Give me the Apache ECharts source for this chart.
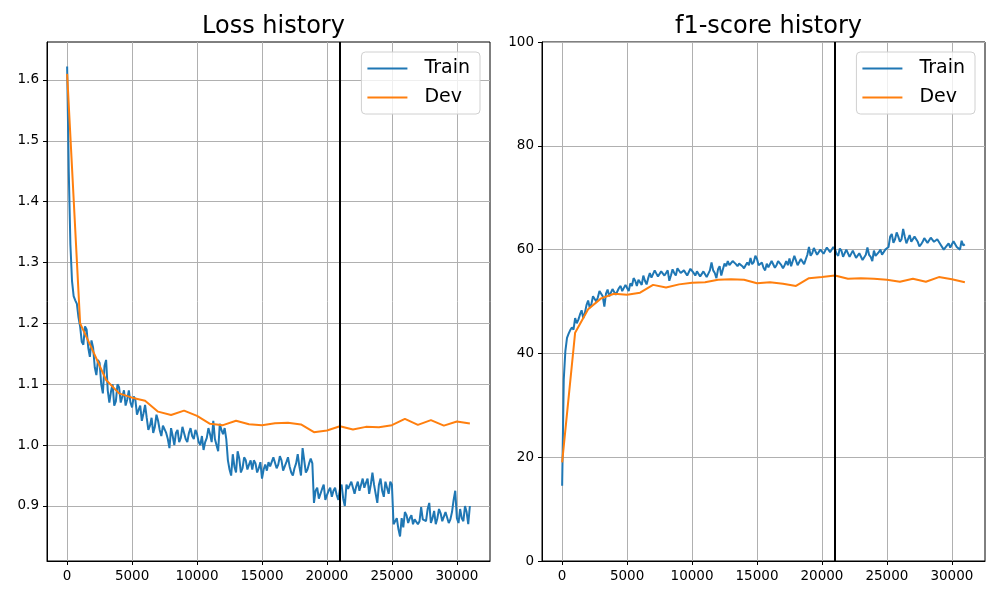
<!DOCTYPE html>
<html>
<head>
<meta charset="utf-8">
<script src="https://cdn.jsdelivr.net/npm/echarts@6/dist/echarts.min.js"></script>
<style>
html,body{margin:0;padding:0;background:#fff;}
#c{width:1000px;height:600px;}
</style>
</head>
<body>
<div id="c"></div>
<script>
// Training steps: train logged every 125 steps, dev evaluated every 1000 steps
const trainStepSize = 125;
const devStepSize = 1000;
const bestStep = 21000;
const xTicks = [0, 5000, 10000, 15000, 20000, 25000, 30000];
const lossTicks = [0.9, 1.0, 1.1, 1.2, 1.3, 1.4, 1.5, 1.6];

// one row = 1000 steps
const trainLoss = [
  1.622, 1.45, 1.33, 1.27, 1.245, 1.238, 1.232, 1.21,
  1.195, 1.17, 1.165, 1.195, 1.19, 1.16, 1.145, 1.172,
  1.16, 1.128, 1.115, 1.14, 1.135, 1.10, 1.085, 1.13,
  1.14, 1.09, 1.07, 1.088, 1.10, 1.065, 1.072, 1.10,
  1.095, 1.07, 1.08, 1.09, 1.065, 1.075, 1.09, 1.07,
  1.062, 1.08, 1.075, 1.05, 1.058, 1.065, 1.04, 1.052,
  1.066, 1.045, 1.025, 1.032, 1.045, 1.02, 1.03, 1.05,
  1.04, 1.025, 1.015, 1.032, 1.035, 1.02, 1.01, 0.995,
  1.028, 1.015, 1.00, 1.02, 1.025, 1.005, 1.012, 1.03,
  1.02, 1.01, 1.005, 1.02, 1.028, 1.015, 1.01, 1.025,
  1.018, 1.005, 1.00, 1.015, 0.992, 1.005, 1.012, 1.028,
  1.018, 1.005, 1.04, 1.01, 1.00, 0.99, 1.035, 1.025,
  1.018, 1.028, 1.01, 0.975, 0.96, 0.95, 0.985, 0.965,
  0.955, 0.99, 0.978, 0.955, 0.962, 0.98, 0.975, 0.96,
  0.968, 0.975, 0.96, 0.975, 0.97, 0.955, 0.962, 0.972,
  0.945, 0.96, 0.968, 0.958, 0.972, 0.965, 0.962, 0.98,
  0.978, 0.962, 0.968, 0.982, 0.975, 0.958, 0.96, 0.972,
  0.98, 0.965, 0.955, 0.95, 0.962, 0.97, 0.985, 0.965,
  0.95, 0.995, 0.975, 0.955, 0.96, 0.97, 0.978, 0.97,
  0.905, 0.925, 0.93, 0.912, 0.915, 0.928, 0.935, 0.91,
  0.918, 0.925, 0.93, 0.915, 0.925, 0.93, 0.918, 0.91,
  0.928, 0.935, 0.912, 0.90, 0.935, 0.928, 0.925, 0.94,
  0.938, 0.92, 0.932, 0.94, 0.925, 0.935, 0.945, 0.93,
  0.938, 0.945, 0.92, 0.935, 0.955, 0.935, 0.92, 0.905,
  0.935, 0.945, 0.925, 0.915, 0.94, 0.93, 0.92, 0.94,
  0.935, 0.87, 0.875, 0.88, 0.862, 0.85, 0.88, 0.865,
  0.89, 0.885, 0.872, 0.88, 0.885, 0.87, 0.878, 0.875,
  0.87, 0.875, 0.898, 0.878, 0.88, 0.875, 0.895, 0.905,
  0.872, 0.88, 0.892, 0.87, 0.88, 0.895, 0.888, 0.875,
  0.876, 0.89, 0.892, 0.872, 0.878, 0.89, 0.91, 0.925,
  0.88, 0.872, 0.895, 0.88, 0.875, 0.90, 0.89, 0.87,
  0.90
];

const devLoss = [
  1.61, 1.20, 1.154, 1.107, 1.085, 1.078, 1.073, 1.055, 1.0495, 1.0567,
  1.048, 1.035, 1.0328, 1.040, 1.0344, 1.0328, 1.036, 1.0366, 1.034, 1.0213,
  1.024, 1.031, 1.0257, 1.030, 1.0295, 1.0328, 1.043, 1.0333, 1.041, 1.032,
  1.0388, 1.0355
];

// one row = 1000 steps
const trainF1 = [
  14.5, 35.0, 40.5, 43.0, 43.8, 44.5, 45.0, 44.6,
  46.8, 45.8, 46.5, 47.5, 48.3, 46.8, 47.8, 49.3,
  50.2, 48.8, 49.5, 51.0, 51.2, 50.0, 50.8, 52.0,
  52.3, 51.0, 49.0, 51.5, 52.3, 51.0, 51.2, 52.4,
  52.5, 51.3, 51.5, 52.6, 53.0, 52.0, 52.0, 53.2,
  52.6, 52.0, 53.5, 53.0, 54.5, 54.0, 53.0, 54.2,
  54.0, 53.2, 55.0, 54.0, 53.3, 54.5, 55.5, 54.6,
  54.8, 56.0, 55.8, 54.8, 55.0, 55.8, 56.0, 55.0,
  55.5, 56.0, 54.0, 55.0, 56.2, 55.5, 55.0, 56.4,
  56.3, 55.5, 55.2, 56.0, 56.0, 55.0, 55.3, 56.3,
  56.2, 55.5, 55.0, 55.8, 56.0, 54.8, 54.9, 55.8,
  55.5, 54.7, 54.8, 56.0, 57.5, 56.0, 55.5, 54.5,
  56.2, 56.8, 55.0, 56.2, 57.3, 56.8, 57.8, 57.0,
  57.2, 57.8, 58.0, 57.2, 56.8, 57.3, 57.5, 56.8,
  56.4, 57.0, 57.5, 57.0, 58.4, 57.2, 57.6, 58.8,
  58.2, 57.0, 56.8, 57.5, 56.5, 56.0, 57.3, 56.6,
  56.8, 57.8, 57.6, 56.5, 57.0, 57.8, 58.0, 57.0,
  56.4, 57.0, 57.8, 57.0, 58.3, 56.8, 57.0, 58.8,
  58.5, 57.0, 57.2, 58.2, 58.0, 57.2, 57.5, 59.0,
  60.5, 58.8, 59.3, 60.3, 60.0, 59.0, 59.2, 60.0,
  60.3, 59.2, 59.5, 60.4, 60.2, 59.5, 59.6, 60.5,
  60.1, 59.2, 58.8, 60.2, 59.8, 58.6, 58.5, 60.0,
  59.7, 58.6, 58.8, 59.8, 59.5, 58.4, 58.2, 59.3,
  59.0, 58.0, 57.8, 59.0, 60.4, 59.0, 58.6, 57.8,
  59.8, 58.8, 58.5, 59.5, 60.0, 59.0, 59.0, 60.0,
  60.2, 60.5, 62.5, 63.0, 61.3, 62.0, 63.3, 62.5,
  61.5, 62.0, 64.0, 62.5, 61.2, 62.0, 62.8, 61.5,
  61.8, 62.5, 62.3, 61.5, 60.6, 61.0, 61.5, 62.2,
  62.0, 61.3, 61.6, 62.3, 62.2, 61.5, 61.4, 62.0,
  61.9, 61.0, 60.8, 60.0, 60.2, 60.8, 61.2, 60.4,
  60.6, 61.6, 61.5, 60.5, 60.3, 60.0, 61.7, 60.8,
  61.0
];

const devF1 = [
  19.0, 44.0, 48.5, 50.6, 51.5, 51.3, 51.7, 53.2, 52.7, 53.3,
  53.6, 53.7, 54.2, 54.3, 54.2, 53.5, 53.7, 53.4, 53.0, 54.5,
  54.7, 55.0, 54.4, 54.5, 54.4, 54.2, 53.8, 54.4, 53.8, 54.7,
  54.3, 53.7
];

function pairs(vals, step) { return vals.map((v, i) => [i * step, v]); }

const FONT = 'DejaVu Sans';
const BLUE = '#1f77b4', ORANGE = '#ff7f0e';

function xAxis(gi) {
  return {
    type: 'value', gridIndex: gi, min: -1550, max: 32550,
    axisLine: { show: true, onZero: false, lineStyle: { color: '#000', width: 1 } },
    axisTick: { show: true, length: 4, lineStyle: { color: '#000' }, customValues: xTicks },
    axisLabel: { color: '#000', fontFamily: FONT, fontSize: 13.5, margin: 8, customValues: xTicks,
      formatter: v => String(Math.round(v)) },
    splitLine: { show: true, lineStyle: { color: '#b0b0b0', width: 1 } }
  };
}

const markV = {
  silent: true, symbol: ['none', 'none'], animation: false,
  label: { show: false },
  lineStyle: { color: '#000', width: 2, type: 'solid' },
  data: [{ xAxis: bestStep }]
};

function legend(right) {
  return {
    right: right, top: 52, orient: 'vertical',
    data: ['Train', 'Dev'],
    icon: 'rect',
    itemWidth: 40, itemHeight: 2, itemGap: 10,
    backgroundColor: 'rgba(255,255,255,0.8)',
    borderColor: '#d0d0d0', borderWidth: 1, borderRadius: 4,
    padding: [7, 10, 7, 6],
    textStyle: { fontFamily: FONT, fontSize: 19, color: '#000', padding: [0, 0, 0, 12] }
  };
}

const chart = echarts.init(document.getElementById('c'), null, { renderer: 'canvas' });
chart.setOption({
  animation: false,
  backgroundColor: '#fff',
  title: [
    { text: 'Loss history', left: 268.5, textAlign: 'center', top: 10,
      textStyle: { fontFamily: FONT, fontSize: 24, fontWeight: 'normal', color: '#000' } },
    { text: 'f1-score history', left: 763.5, textAlign: 'center', top: 10,
      textStyle: { fontFamily: FONT, fontSize: 24, fontWeight: 'normal', color: '#000' } }
  ],
  legend: [legend(520), legend(25)],
  grid: [
    { left: 47, right: 510, top: 42, bottom: 39, show: true, borderColor: '#000', borderWidth: 1 },
    { left: 542, right: 15, top: 42, bottom: 39, show: true, borderColor: '#000', borderWidth: 1 }
  ],
  xAxis: [xAxis(0), xAxis(1)],
  yAxis: [
    {
      type: 'value', gridIndex: 0, min: 0.8096, max: 1.6624,
      axisLine: { show: true, onZero: false, lineStyle: { color: '#000' } },
      axisTick: { show: true, length: 4, lineStyle: { color: '#000' }, customValues: lossTicks },
      axisLabel: { color: '#000', fontFamily: FONT, fontSize: 13.5, margin: 8, customValues: lossTicks,
        formatter: v => v.toFixed(1) },
      splitLine: { show: true, lineStyle: { color: '#b0b0b0', width: 1 } }
    },
    {
      type: 'value', gridIndex: 1, min: 0, max: 100, interval: 20,
      axisLine: { show: true, onZero: false, lineStyle: { color: '#000' } },
      axisTick: { show: true, length: 4, lineStyle: { color: '#000' } },
      axisLabel: { color: '#000', fontFamily: FONT, fontSize: 13.5, margin: 8 },
      splitLine: { show: true, lineStyle: { color: '#b0b0b0', width: 1 } }
    }
  ],
  series: [
    { name: 'Train', type: 'line', xAxisIndex: 0, yAxisIndex: 0, data: pairs(trainLoss, trainStepSize),
      symbol: 'none', lineStyle: { color: BLUE, width: 2 }, itemStyle: { color: BLUE }, z: 3 },
    { name: 'Dev', type: 'line', xAxisIndex: 0, yAxisIndex: 0, data: pairs(devLoss, devStepSize),
      symbol: 'none', lineStyle: { color: ORANGE, width: 2 }, itemStyle: { color: ORANGE }, z: 4,
      markLine: markV },
    { name: 'Train', type: 'line', xAxisIndex: 1, yAxisIndex: 1, data: pairs(trainF1, trainStepSize),
      symbol: 'none', lineStyle: { color: BLUE, width: 2 }, itemStyle: { color: BLUE }, z: 3 },
    { name: 'Dev', type: 'line', xAxisIndex: 1, yAxisIndex: 1, data: pairs(devF1, devStepSize),
      symbol: 'none', lineStyle: { color: ORANGE, width: 2 }, itemStyle: { color: ORANGE }, z: 4,
      markLine: markV }
  ]
});
</script>
</body>
</html>
